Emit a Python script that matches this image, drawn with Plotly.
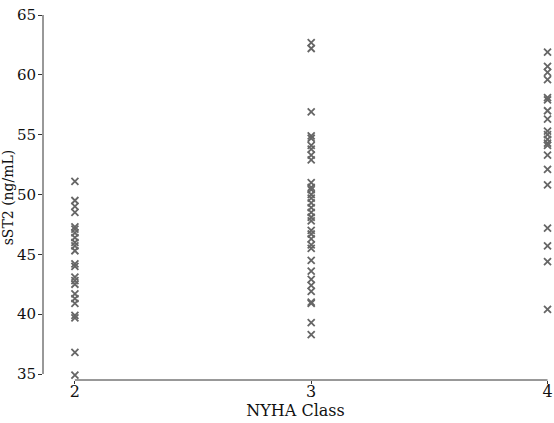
import plotly.graph_objects as go

nyha2 = [51.1, 49.5, 49.0, 48.5, 47.3, 47.1, 46.8, 46.4, 46.0, 45.7, 45.3, 44.2, 44.0,
         43.1, 42.8, 42.5, 41.7, 41.3, 40.9, 39.9, 39.7, 36.8, 34.9]
nyha3 = [62.7, 62.2, 56.9, 54.9, 54.7, 54.1, 53.8, 53.3, 52.9, 51.0, 50.6, 50.4, 50.0,
         49.7, 49.3, 48.9, 48.5, 48.1, 47.8, 47.0, 46.7, 46.3, 45.8, 45.5, 44.5, 43.6,
         42.9, 42.4, 41.9, 41.0, 40.9, 39.3, 38.3]
nyha4 = [61.9, 60.7, 60.2, 59.6, 58.1, 57.9, 57.0, 56.3, 55.3, 55.0, 54.6, 54.3, 54.1,
         53.3, 52.1, 50.8, 47.2, 45.7, 44.4, 40.4]

x_ticks = [2, 3, 4]
y_ticks = [35, 40, 45, 50, 55, 60, 65]

xs = [2] * len(nyha2) + [3] * len(nyha3) + [4] * len(nyha4)
ys = nyha2 + nyha3 + nyha4

font = "DejaVu Serif"

fig = go.Figure()
fig.add_trace(go.Scatter(
    x=xs, y=ys, mode="markers", cliponaxis=False,
    marker=dict(symbol="x-thin-open", size=7, color="#666666",
                line=dict(width=1.8, color="#666666")),
    showlegend=False,
))

fig.update_layout(
    width=554, height=423,
    margin=dict(l=43, r=6, t=15, b=43),
    paper_bgcolor="white", plot_bgcolor="white",
    font=dict(family=font, size=15, color="#111111"),
    xaxis=dict(range=[1.865, 4.002], tickvals=x_ticks, ticks="outside", ticklen=3,
               tickcolor="#333", showgrid=False, zeroline=False, showline=False,
               automargin=False, ticklabelstandoff=-6,
               title=dict(text="NYHA Class", font=dict(size=16), standoff=0),
               tickfont=dict(size=16)),
    yaxis=dict(range=[34.5, 65], tickvals=y_ticks, ticks="outside", ticklen=4,
               tickcolor="#333", showgrid=False, zeroline=False, showline=False,
               automargin=False, ticklabelstandoff=-1,
               title=dict(text="sST2 (ng/mL)", font=dict(size=14), standoff=8),
               tickfont=dict(size=15)),
)

fig.add_shape(type="line", xref="paper", yref="y", x0=0, x1=0,
              y0=min(y_ticks), y1=max(y_ticks), line=dict(color="#333", width=1))
fig.add_shape(type="line", xref="x", yref="paper", x0=min(x_ticks), x1=max(x_ticks),
              y0=0, y1=0, line=dict(color="#333", width=1))

fig.write_html("out.html", config={"displayModeBar": False},
               post_script="document.body.style.margin='0';document.body.style.overflow='hidden';")
